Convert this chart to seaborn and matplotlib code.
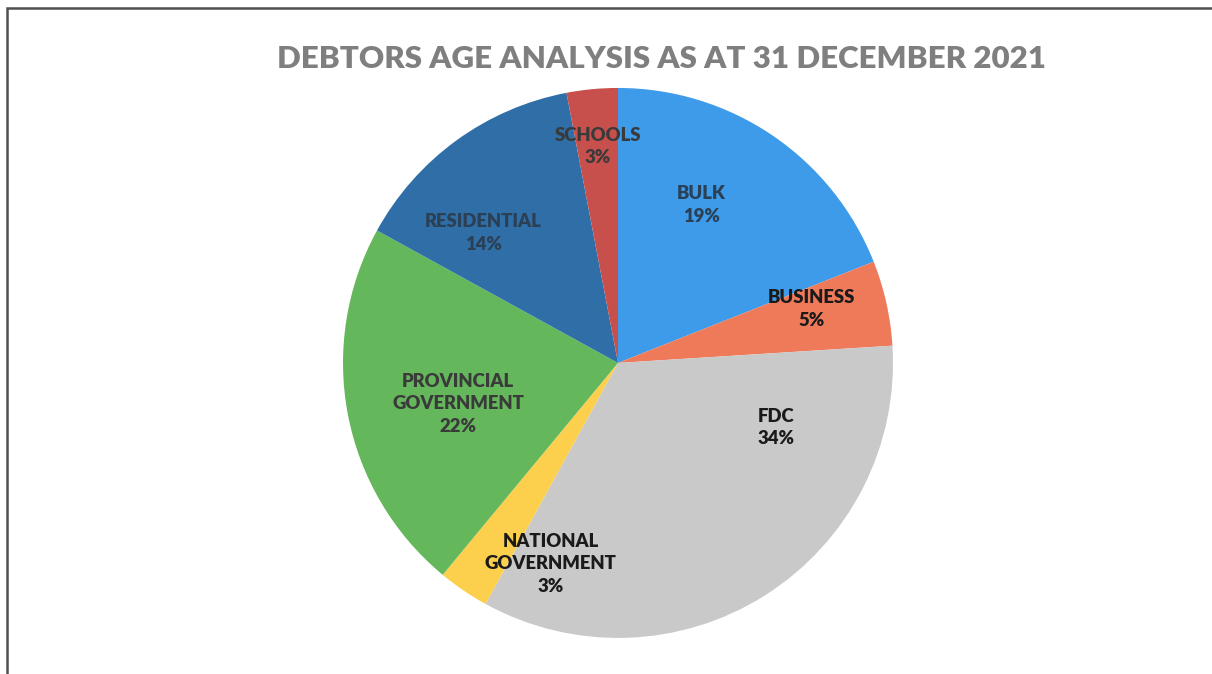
import numpy as np
import matplotlib
matplotlib.use("Agg")
import matplotlib.pyplot as plt
import seaborn as sns
from matplotlib.patches import Rectangle

# ---------- Data ----------
categories = ["BULK", "BUSINESS", "FDC", "NATIONAL\nGOVERNMENT",
              "PROVINCIAL\nGOVERNMENT", "RESIDENTIAL", "SCHOOLS"]
shares = [19, 5, 34, 3, 22, 14, 3]

colors = ["#3d9be9", "#ef7a59", "#c9c9c9", "#fccf4d", "#65b75c", "#2f6ea6", "#c7504d"]
text_colors = ["#2b3f55", "#1a1a1a", "#1a1a1a", "#1a1a1a", "#3a3a3a", "#2b3f55", "#3a3a3a"]
# label placement (radius fraction, angle nudge in degrees), as in the original layout
label_r = [0.65, 0.73, 0.62, 0.77, 0.60, 0.68, 0.79]
label_nudge = [6.4, 3.0, 35.4, 15.6, 3.6, 10.0, 0.0]

sns.set_theme(style="white")
plt.rcParams["font.family"] = ["Lato", "DejaVu Sans"]

fig = plt.figure(figsize=(12.12, 6.74), dpi=100)
ax = fig.add_axes([0.283, 0.0535, 0.4538, 0.816])

wedges, _ = ax.pie(shares, colors=colors, startangle=90, counterclock=False,
                   wedgeprops=dict(linewidth=0))
ax.set_xlim(-1, 1)
ax.set_ylim(-1, 1)

total = sum(shares)
for w, cat, val, tc, r, nd in zip(wedges, categories, shares, text_colors, label_r, label_nudge):
    mid = np.deg2rad((w.theta1 + w.theta2) / 2 + nd)
    ax.text(r * np.cos(mid), r * np.sin(mid), f"{cat}\n{round(100 * val / total)}%",
            ha="center", va="center", fontsize=13.3, fontweight="heavy",
            color=tc, linespacing=1.4)

fig.text(0.546, 0.912, "DEBTORS AGE ANALYSIS AS AT 31 DECEMBER 2021",
         ha="center", va="center", fontsize=22.5, fontweight="heavy", color="#7f7f7f")

# outer frame of the chart area
fig.patches.append(Rectangle((7 / 1212, -0.1), 1.2, 1 - 8 / 674 + 0.1,
                             transform=fig.transFigure, fill=False,
                             edgecolor="#505050", linewidth=1.8))

fig.savefig("out.png", dpi=100)
